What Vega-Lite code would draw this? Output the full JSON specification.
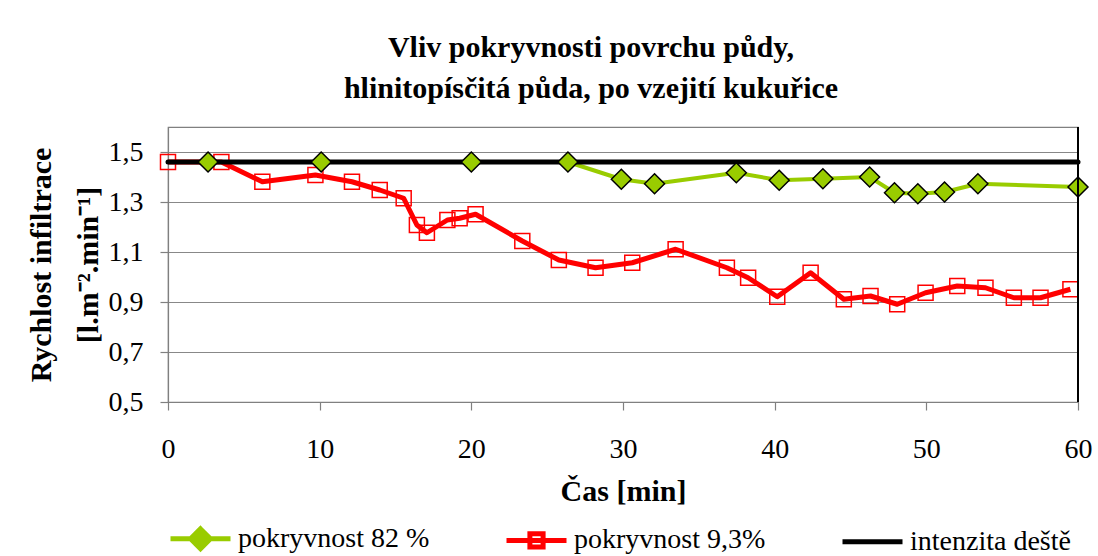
{
  "$schema": "https://vega.github.io/schema/vega-lite/v6.json",
  "autosize": "none",
  "width": 910,
  "height": 275,
  "padding": {"left": 168, "top": 127, "right": 20, "bottom": 154},
  "background": "white",
  "config": {
    "font": "Liberation Serif",
    "view": {"stroke": "#808080", "strokeWidth": 1.2}
  },
  "title": {
    "text": ["Vliv pokryvnosti povrchu půdy,", "hlinitopísčitá půda, po vzejití kukuřice"],
    "font": "Liberation Serif",
    "fontSize": 30,
    "fontWeight": "bold",
    "color": "black",
    "lineHeight": 41,
    "anchor": "middle",
    "dx": -32,
    "offset": 22
  },
  "data": {
    "values": [
      {"series": "intenzita deště", "t": 0, "v": 1.46},
      {"series": "intenzita deště", "t": 60, "v": 1.46},
      {"series": "pokryvnost 82 %", "t": 2.64, "v": 1.46},
      {"series": "pokryvnost 82 %", "t": 10.1, "v": 1.46},
      {"series": "pokryvnost 82 %", "t": 20.0, "v": 1.46},
      {"series": "pokryvnost 82 %", "t": 26.37, "v": 1.46},
      {"series": "pokryvnost 82 %", "t": 29.89, "v": 1.391},
      {"series": "pokryvnost 82 %", "t": 32.08, "v": 1.373},
      {"series": "pokryvnost 82 %", "t": 37.47, "v": 1.417},
      {"series": "pokryvnost 82 %", "t": 40.3, "v": 1.387},
      {"series": "pokryvnost 82 %", "t": 43.18, "v": 1.393},
      {"series": "pokryvnost 82 %", "t": 46.26, "v": 1.4},
      {"series": "pokryvnost 82 %", "t": 47.9, "v": 1.337},
      {"series": "pokryvnost 82 %", "t": 49.44, "v": 1.333},
      {"series": "pokryvnost 82 %", "t": 51.2, "v": 1.34},
      {"series": "pokryvnost 82 %", "t": 53.4, "v": 1.373},
      {"series": "pokryvnost 82 %", "t": 60.0, "v": 1.36},
      {"series": "pokryvnost 9,3%", "t": 0, "v": 1.46},
      {"series": "pokryvnost 9,3%", "t": 3.52, "v": 1.46},
      {"series": "pokryvnost 9,3%", "t": 6.22, "v": 1.381},
      {"series": "pokryvnost 9,3%", "t": 9.72, "v": 1.408},
      {"series": "pokryvnost 9,3%", "t": 12.13, "v": 1.381},
      {"series": "pokryvnost 9,3%", "t": 13.96, "v": 1.348},
      {"series": "pokryvnost 9,3%", "t": 15.54, "v": 1.315},
      {"series": "pokryvnost 9,3%", "t": 16.41, "v": 1.208},
      {"series": "pokryvnost 9,3%", "t": 17.07, "v": 1.177},
      {"series": "pokryvnost 9,3%", "t": 18.42, "v": 1.228},
      {"series": "pokryvnost 9,3%", "t": 19.23, "v": 1.235},
      {"series": "pokryvnost 9,3%", "t": 20.28, "v": 1.251},
      {"series": "pokryvnost 9,3%", "t": 23.36, "v": 1.144},
      {"series": "pokryvnost 9,3%", "t": 25.77, "v": 1.068},
      {"series": "pokryvnost 9,3%", "t": 28.19, "v": 1.037},
      {"series": "pokryvnost 9,3%", "t": 30.61, "v": 1.057},
      {"series": "pokryvnost 9,3%", "t": 33.47, "v": 1.111},
      {"series": "pokryvnost 9,3%", "t": 36.85, "v": 1.037},
      {"series": "pokryvnost 9,3%", "t": 38.25, "v": 0.997},
      {"series": "pokryvnost 9,3%", "t": 40.17, "v": 0.921},
      {"series": "pokryvnost 9,3%", "t": 42.37, "v": 1.017},
      {"series": "pokryvnost 9,3%", "t": 44.56, "v": 0.911},
      {"series": "pokryvnost 9,3%", "t": 46.32, "v": 0.924},
      {"series": "pokryvnost 9,3%", "t": 48.08, "v": 0.891},
      {"series": "pokryvnost 9,3%", "t": 49.95, "v": 0.937},
      {"series": "pokryvnost 9,3%", "t": 52.04, "v": 0.964},
      {"series": "pokryvnost 9,3%", "t": 53.9, "v": 0.957},
      {"series": "pokryvnost 9,3%", "t": 55.77, "v": 0.917},
      {"series": "pokryvnost 9,3%", "t": 57.53, "v": 0.917},
      {"series": "pokryvnost 9,3%", "t": 59.5, "v": 0.951}
    ]
  },
  "encoding": {
    "x": {
      "field": "t",
      "type": "quantitative",
      "scale": {"domain": [0, 60], "nice": false, "zero": false},
      "axis": {
        "title": "Čas [min]",
        "values": [0, 10, 20, 30, 40, 50, 60],
        "grid": false,
        "domainColor": "#808080",
        "domainWidth": 1.2,
        "tickColor": "#808080",
        "tickSize": 8,
        "tickWidth": 1.2,
        "labelFont": "Liberation Serif",
        "labelFontSize": 28,
        "labelColor": "black",
        "labelPadding": 25,
        "labelFlush": false,
        "titleFont": "Liberation Serif",
        "titleFontSize": 30,
        "titleFontWeight": "bold",
        "titleColor": "black",
        "titlePadding": 13
      }
    },
    "y": {
      "field": "v",
      "type": "quantitative",
      "scale": {"domain": [0.5, 1.6], "nice": false, "zero": false},
      "axis": {
        "title": ["Rychlost infiltrace", "[l.m⁻².min⁻¹]"],
        "values": [0.5, 0.7, 0.9, 1.1, 1.3, 1.5],
        "labelExpr": "replace(format(datum.value, '.1f'), '.', ',')",
        "grid": true,
        "gridColor": "#888888",
        "gridWidth": 1.2,
        "domainColor": "#808080",
        "domainWidth": 1.2,
        "tickColor": "#808080",
        "tickSize": 8,
        "tickWidth": 1.2,
        "labelFont": "Liberation Serif",
        "labelFontSize": 28,
        "labelColor": "black",
        "labelPadding": 17,
        "labelFlush": false,
        "titleFont": "Liberation Serif",
        "titleFontSize": 30,
        "titleFontWeight": "bold",
        "titleColor": "black",
        "titleLineHeight": 47,
        "titlePadding": 5
      }
    }
  },
  "layer": [
    {
      "transform": [{"filter": "datum.series === 'pokryvnost 9,3%'"}],
      "mark": {"type": "line", "strokeWidth": 5, "strokeJoin": "round"},
      "encoding": {
        "color": {
          "field": "series",
          "type": "nominal",
          "scale": {
            "domain": ["pokryvnost 82 %", "pokryvnost 9,3%", "intenzita deště"],
            "range": ["#99CC00", "#FF0000", "#000000"]
          },
          "legend": {
            "orient": "bottom",
            "direction": "horizontal",
            "title": null,
            "offset": 0,
            "labelFont": "Liberation Serif",
            "labelFontSize": 28,
            "labelColor": "black",
            "labelLimit": 400,
            "symbolType": "stroke",
            "symbolSize": 3600,
            "symbolStrokeWidth": 5,
            "columnPadding": 66,
            "labelOffset": 5,
            "encode": {
              "symbols": {
                "update": {
                  "shape": {"signal": "datum.value === 'pokryvnost 82 %' ? 'M-1,0L-0.33,0M0.33,0L1,0M0,-0.33L0.33,0L0,0.33L-0.33,0Z' : (datum.value === 'pokryvnost 9,3%' ? 'M-1,0L1,0M-0.22,-0.22L0.22,-0.22L0.22,0.22L-0.22,0.22Z' : 'stroke')"},
                  "fill": {"signal": "datum.value === 'pokryvnost 82 %' ? '#99CC00' : 'transparent'"}
                }
              }
            }
          }
        }
      }
    },
    {
      "transform": [{"filter": "datum.series === 'pokryvnost 9,3%'"}],
      "mark": {"type": "point", "shape": "square", "size": 225, "filled": false, "stroke": "#FF0000", "strokeWidth": 1.5, "opacity": 1}
    },
    {
      "transform": [{"filter": "datum.series === 'pokryvnost 82 %'"}],
      "mark": {"type": "line", "strokeWidth": 4, "strokeJoin": "round"},
      "encoding": {
        "color": {
          "field": "series",
          "type": "nominal",
          "scale": {
            "domain": ["pokryvnost 82 %", "pokryvnost 9,3%", "intenzita deště"],
            "range": ["#99CC00", "#FF0000", "#000000"]
          }
        }
      }
    },
    {
      "transform": [{"filter": "datum.series === 'intenzita deště'"}],
      "mark": {"type": "line", "strokeWidth": 5, "strokeCap": "round"},
      "encoding": {
        "color": {
          "field": "series",
          "type": "nominal",
          "scale": {
            "domain": ["pokryvnost 82 %", "pokryvnost 9,3%", "intenzita deště"],
            "range": ["#99CC00", "#FF0000", "#000000"]
          }
        }
      }
    },
    {
      "transform": [{"filter": "datum.series === 'pokryvnost 82 %'"}],
      "mark": {"type": "point", "shape": "diamond", "size": 400, "filled": true, "fill": "#99CC00", "stroke": "#000000", "strokeWidth": 1.5, "opacity": 1}
    },
    {
      "mark": {"type": "rule", "color": "#000000", "strokeWidth": 1.5},
      "encoding": {"x": {"datum": 60}, "y": {"datum": 1.6}, "y2": {"datum": 0.5}}
    }
  ]
}
